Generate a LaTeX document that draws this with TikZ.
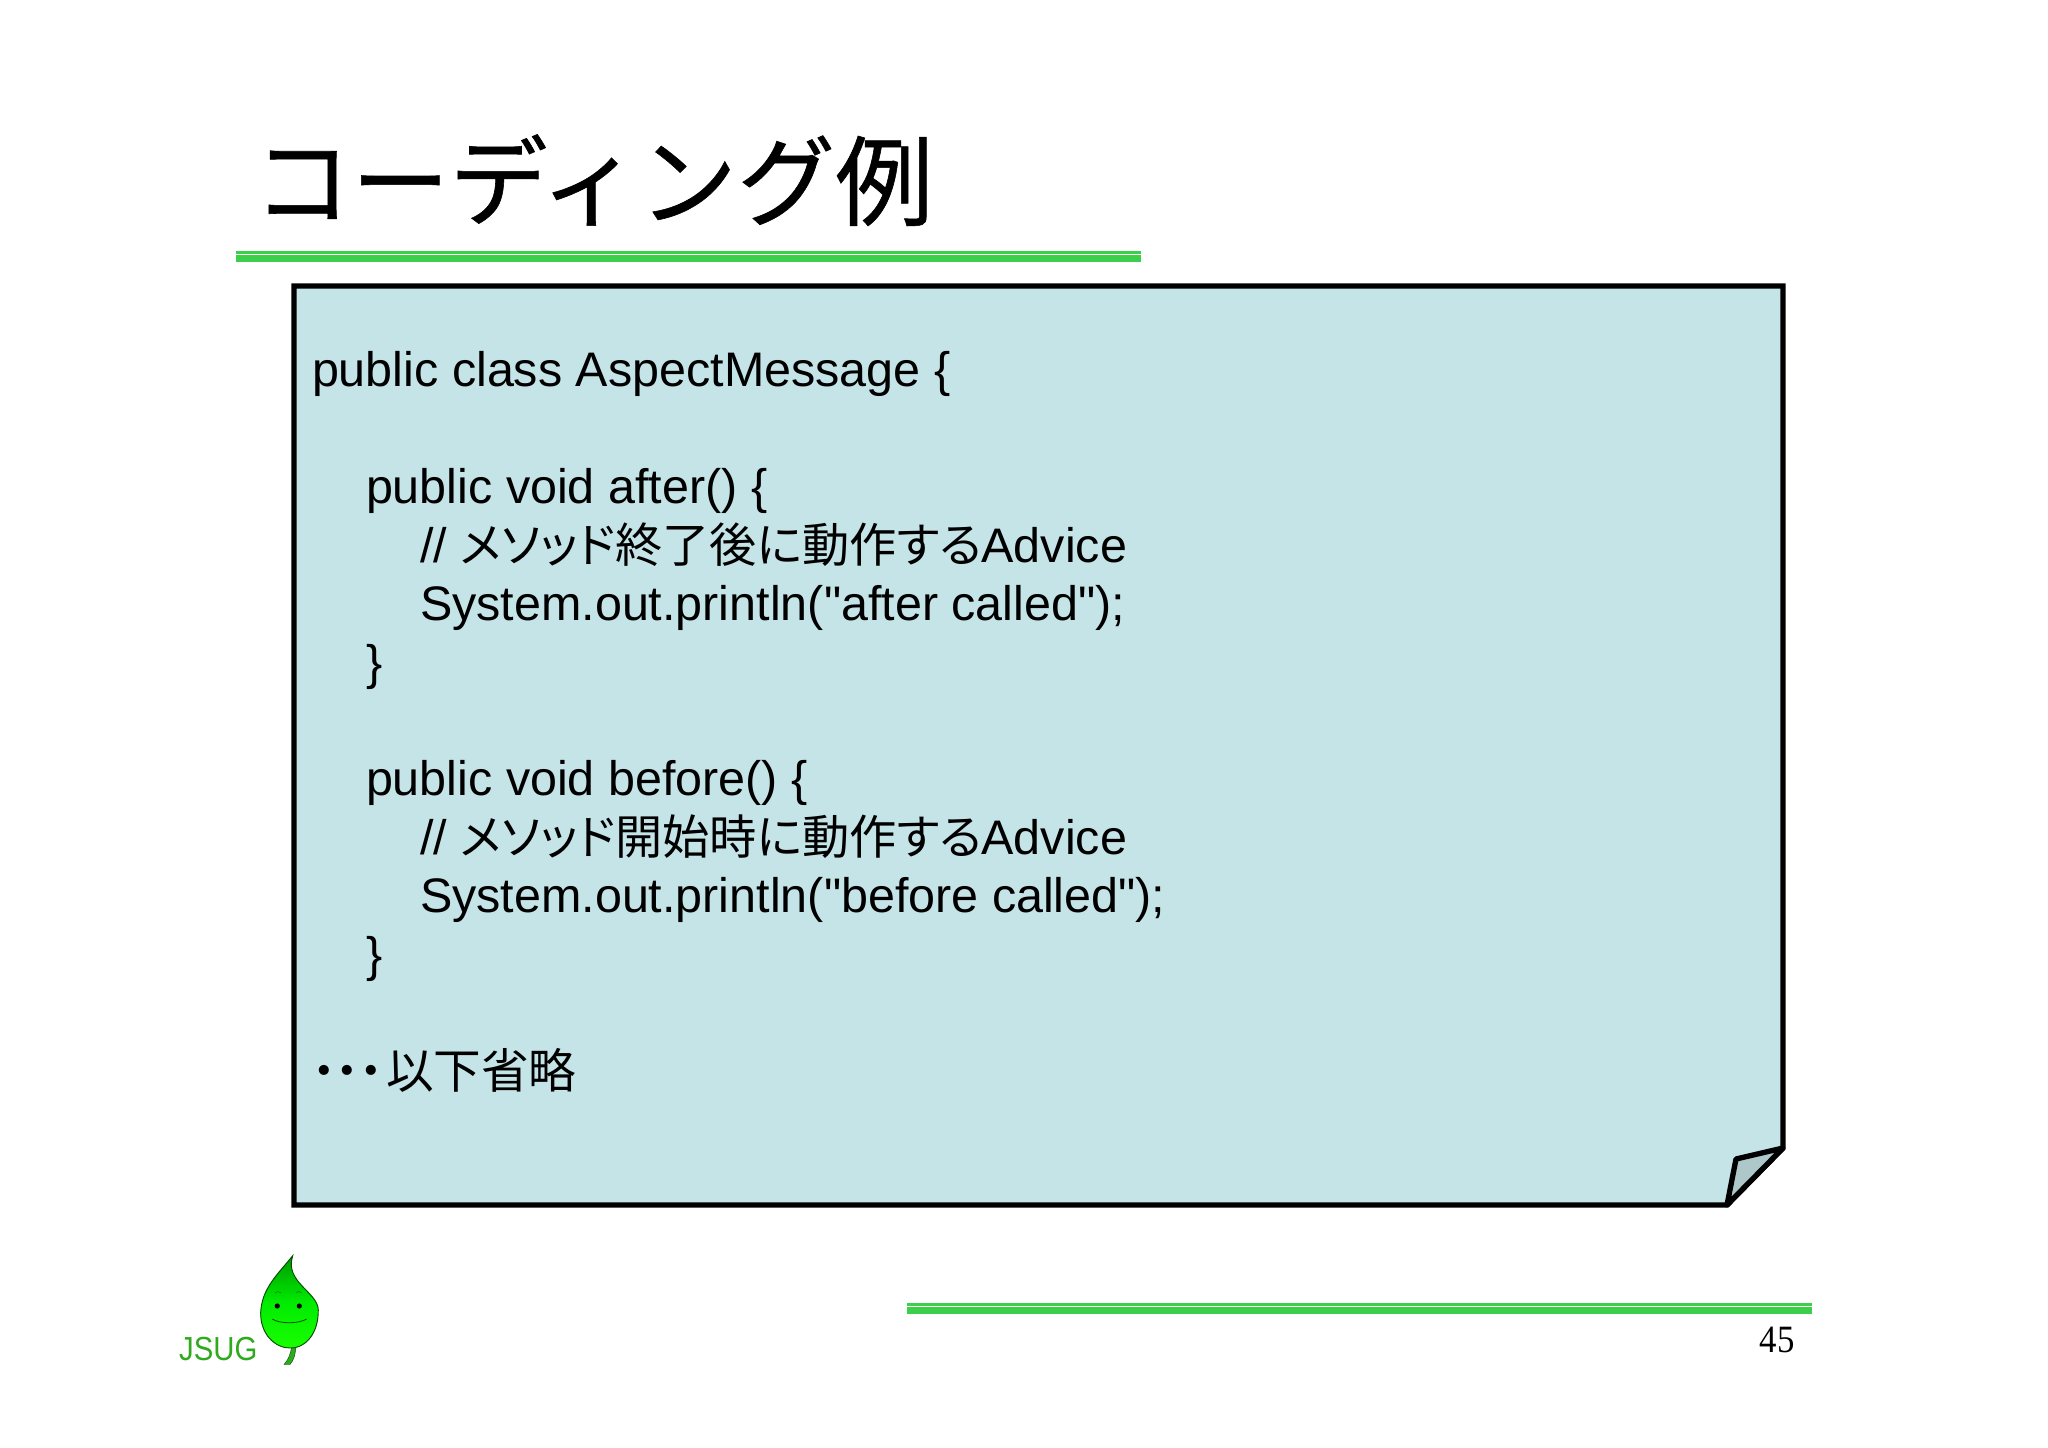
\documentclass[tikz,border=0pt]{standalone}
\usepackage{fontspec}
\setmainfont{Liberation Sans}
\newfontfamily\codefont{Liberation Sans}
\newfontfamily\cjk[RawFeature=+palt]{Noto Sans CJK JP}
\newfontfamily\cjktitle[FakeBold=0.6]{Noto Sans CJK JP}
\newfontfamily\serifnum{Liberation Serif}
\definecolor{rulegreen}{HTML}{3CCF4A}
\definecolor{notefill}{HTML}{C5E4E8}
\definecolor{foldfill}{HTML}{AEC8CA}
\definecolor{logogreen}{HTML}{2FAA1E}
\newcommand{\cjksmall}{\fontsize{35.4}{40}\cjk\selectfont}
\newcommand{\cjkend}{\fontsize{35.7}{40}\cjk\selectfont}
\tikzset{
  code/.style={anchor=base west,inner sep=0pt,outer sep=0pt,font=\fontsize{36.35}{40}\codefont\selectfont,text=black},
  rulethin/.style={fill=rulegreen,draw=none},
}
\begin{document}
\begin{tikzpicture}[x=0.75pt,y=-0.75pt]
\useasboundingbox (0,0) rectangle (2048,1447);
% title
\node[anchor=base west,inner sep=0pt,font=\fontsize{73.6}{80}\selectfont\cjktitle] (title) at (253,218) {コーディング例};
\fill[rulethin] (236,251) rectangle (1141,253.5);
\fill[rulethin] (236,255) rectangle (1141,262);
% note
\draw[fill=notefill,line width=4pt,line join=miter] (294,286) -- (1783,286) -- (1783,1148) -- (1727,1205) -- (294,1205) -- cycle;
\draw[fill=foldfill,line width=4pt,line join=round] (1783,1148) -- (1736,1159) -- (1727,1205) -- cycle;
% code
\node[code] (l1) at (312,386.5) {public class AspectMessage \{};
\node[code] (l2) at (366,503) {public void after() \{};
\node[code] (l3) at (420,562) {// {\cjksmall メソッド終了後に動作する}Advice};
\node[code] (l4) at (420,620) {System.out.println("after called");};
\node[code] (l5) at (366,679) {\}};
\node[code] (l6) at (366,795) {public void before() \{};
\node[code] (l7) at (420,854) {// {\cjksmall メソッド開始時に動作する}Advice};
\node[code] (l8) at (420,912) {System.out.println("before called");};
\node[code] (l9) at (366,971) {\}};
\node[code] (l10) at (312,1088) {{\cjkend ・・・\kern2pt 以下省略}};
% footer rule
\fill[rulethin] (907,1303) rectangle (1812,1305.5);
\fill[rulethin] (907,1307) rectangle (1812,1314);
\node[anchor=base east,inner sep=0pt,font=\fontsize{29}{32}\selectfont\serifnum,xscale=0.9,transform shape] (pg) at (1795,1352) {45};
% logo
\node[anchor=base west,inner sep=0pt,font=\fontsize{25}{30}\selectfont,text=logogreen,xscale=0.88,transform shape] (jsug) at (179,1360) {JSUG};
\draw[fill=logogreen,draw=green!30!black,line width=0.3pt] (291.5,1346) .. controls (291,1354) and (288,1360) .. (284,1364.5) -- (290,1364.5) .. controls (294,1360) and (295.5,1354) .. (296,1346) -- cycle;
\draw[top color=green!60!black,bottom color=green!90!yellow,middle color=green!92!black,draw=green!30!black,line width=0.7pt] (292.7,1255.7) .. controls (278,1274) and (262,1288) .. (260.7,1312) .. controls (260,1334) and (275,1348) .. (290,1348) .. controls (307,1348) and (318.5,1332) .. (318.3,1310) .. controls (318,1292) and (284,1282) .. (292.7,1255.7) -- cycle;
\fill[black] (277.3,1306) circle (2.6);
\fill[black] (299.3,1306) circle (2.6);
\draw[green!30!black,line width=0.6pt] (272.3,1319) .. controls (280,1324) and (298,1324) .. (306.7,1319);
\draw[green!40!black,line width=0.3pt] (275,1293) .. controls (277,1291) and (279,1291) .. (281,1293);
\draw[green!40!black,line width=0.3pt] (296,1293) .. controls (298,1291) and (300,1291) .. (302,1293);
\end{tikzpicture}
\end{document}
